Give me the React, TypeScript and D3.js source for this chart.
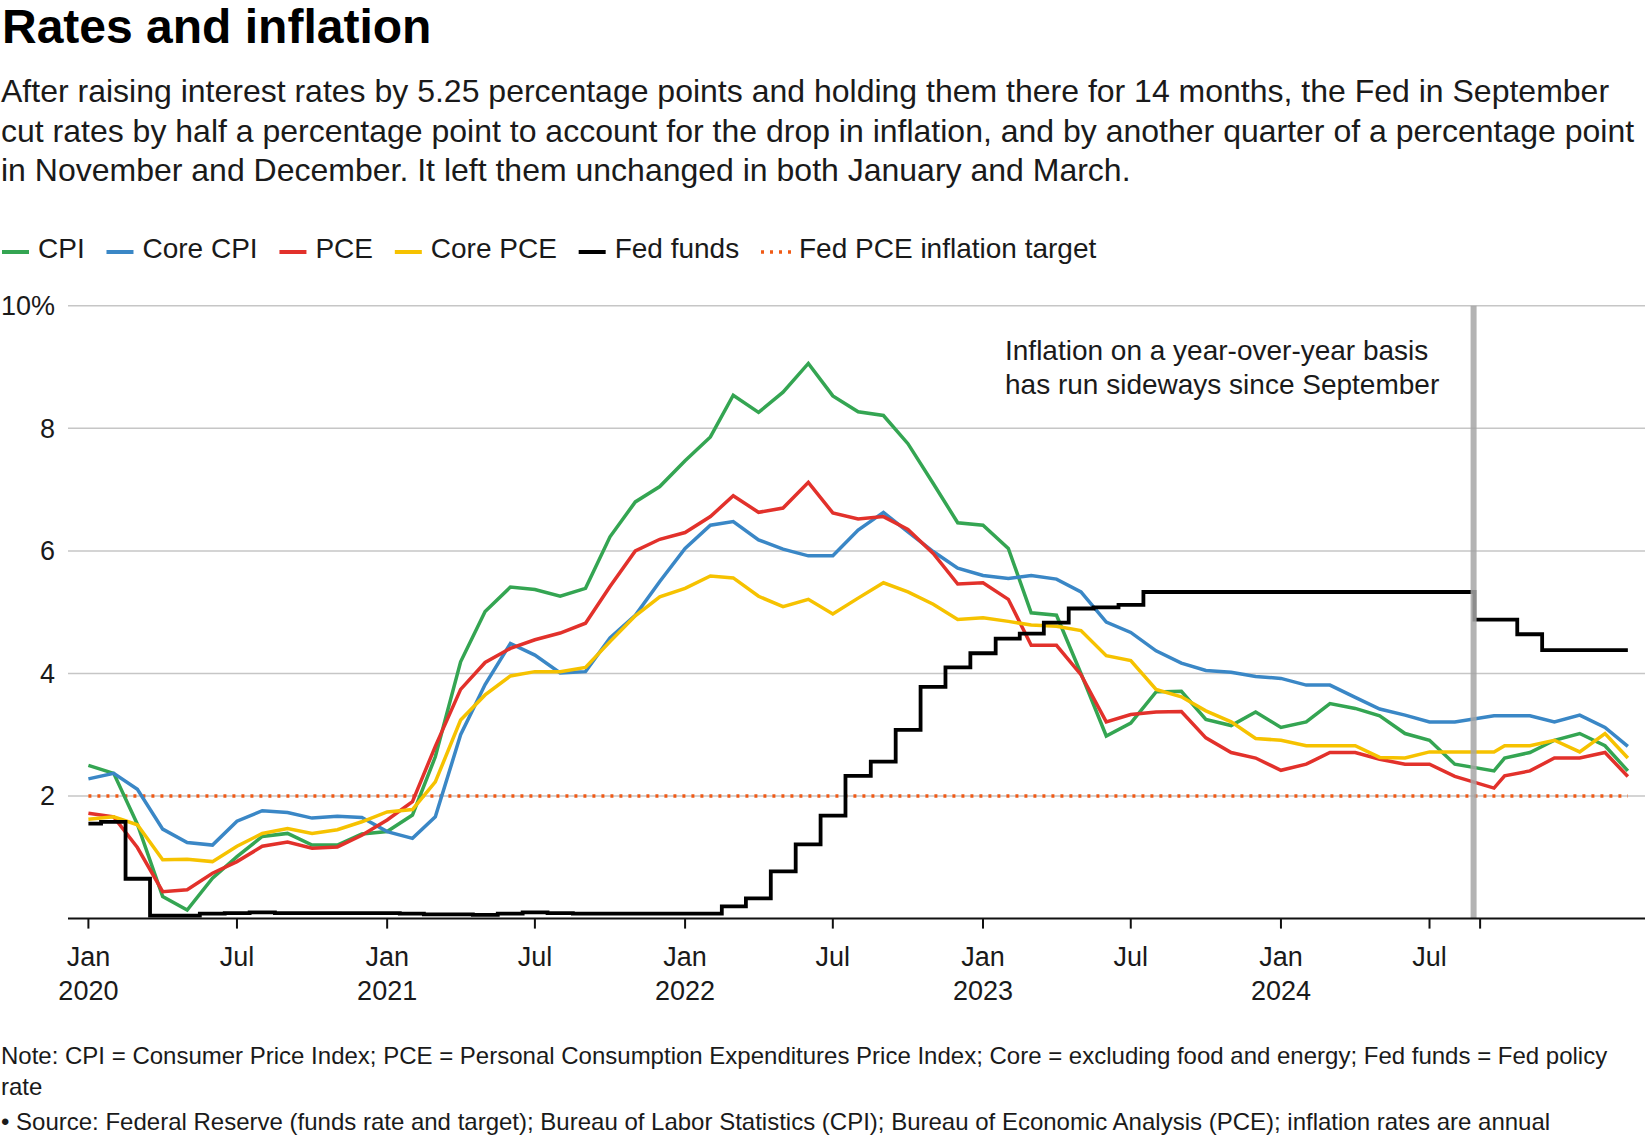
import React, { useEffect, useRef } from 'react';
import * as d3 from 'd3';

// Year-over-year inflation, monthly, Jan 2020 - Mar 2025 (percent)
const cpi = [
  2.5, 2.37, 1.54, 0.36, 0.14, 0.66, 1.01, 1.34, 1.39, 1.2, 1.2, 1.38,
  1.42, 1.69, 2.64, 4.19, 5.01, 5.41, 5.37, 5.26, 5.39, 6.23, 6.8, 7.05,
  7.47, 7.86, 8.54, 8.26, 8.59, 9.06, 8.53, 8.27, 8.21, 7.75, 7.1, 6.46,
  6.42, 6.04, 4.99, 4.95, 4.0, 2.98, 3.19, 3.7, 3.71, 3.25, 3.15, 3.37,
  3.12, 3.21, 3.51, 3.43, 3.31, 3.02, 2.91, 2.52, 2.41, 2.62, 2.71, 2.91,
  3.02, 2.82, 2.41,
];
const coreCpi = [
  2.28, 2.37, 2.11, 1.46, 1.24, 1.2, 1.59, 1.76, 1.73, 1.64, 1.67, 1.65,
  1.42, 1.31, 1.66, 3.0, 3.82, 4.49, 4.3, 4.01, 4.03, 4.58, 4.95, 5.5,
  6.04, 6.42, 6.48, 6.18, 6.03, 5.92, 5.92, 6.34, 6.63, 6.31, 5.99, 5.72,
  5.6, 5.55, 5.6, 5.54, 5.33, 4.84, 4.67, 4.37, 4.17, 4.05, 4.02, 3.95,
  3.92, 3.81, 3.81, 3.61, 3.42, 3.32, 3.21, 3.21, 3.31, 3.31, 3.31, 3.21,
  3.32, 3.12, 2.81,
];
const pce = [
  1.72, 1.66, 1.16, 0.44, 0.47, 0.74, 0.93, 1.18, 1.25, 1.15, 1.17, 1.36,
  1.61, 1.91, 2.81, 3.74, 4.18, 4.41, 4.55, 4.66, 4.82, 5.42, 6.0, 6.19,
  6.3, 6.56, 6.9, 6.63, 6.7, 7.12, 6.62, 6.52, 6.56, 6.35, 5.96, 5.46,
  5.48, 5.21, 4.46, 4.46, 3.98, 3.21, 3.33, 3.37, 3.38, 2.95, 2.71, 2.62,
  2.42, 2.52, 2.71, 2.71, 2.6, 2.52, 2.52, 2.32, 2.13, 2.33, 2.41, 2.62,
  2.62, 2.71, 2.32,
];
const corePce = [
  1.62, 1.66, 1.53, 0.96, 0.97, 0.93, 1.18, 1.39, 1.47, 1.39, 1.45, 1.58,
  1.74, 1.78, 2.23, 3.24, 3.65, 3.96, 4.03, 4.03, 4.1, 4.52, 4.94, 5.25,
  5.39, 5.59, 5.56, 5.26, 5.09, 5.21, 4.97, 5.23, 5.48, 5.33, 5.13, 4.88,
  4.91, 4.85, 4.79, 4.77, 4.7, 4.29, 4.21, 3.74, 3.62, 3.39, 3.21, 2.94,
  2.91, 2.82, 2.82, 2.82, 2.63, 2.62, 2.72, 2.72, 2.72, 2.82, 2.82, 2.91,
  2.72, 3.02, 2.62,
];
// Effective fed funds rate, monthly
const fedFunds = [
  1.55, 1.58, 0.65, 0.05, 0.05, 0.08, 0.09, 0.1, 0.09, 0.09, 0.09, 0.09,
  0.09, 0.08, 0.07, 0.07, 0.06, 0.08, 0.1, 0.09, 0.08, 0.08, 0.08, 0.08,
  0.08, 0.08, 0.2, 0.33, 0.77, 1.21, 1.68, 2.33, 2.56, 3.08, 3.78, 4.1,
  4.33, 4.57, 4.65, 4.83, 5.06, 5.08, 5.12, 5.33, 5.33, 5.33, 5.33, 5.33,
  5.33, 5.33, 5.33, 5.33, 5.33, 5.33, 5.33, 5.33, 4.88, 4.88, 4.64, 4.38,
  4.38, 4.38, 4.38,
];
const targetRate = 2;

const yTicks = [2, 4, 6, 8, 10];
const xTickMonths = ['2020-01', '2020-07', '2021-01', '2021-07', '2022-01', '2022-07', '2023-01', '2023-07', '2024-01', '2024-07'];
const markerTick = '2024-09';
const markerDate = '2024-08-24';

const GREEN = '#34a552';
const BLUE = '#3a87c6';
const RED = '#e2312b';
const YELLOW = '#f6c200';
const TARGET = '#f05a16';

const FONT = '"Liberation Sans", Arial, Helvetica, sans-serif';

const subtitle = [
  'After raising interest rates by 5.25 percentage points and holding them there for 14 months, the Fed in September',
  'cut rates by half a percentage point to account for the drop in inflation, and by another quarter of a percentage point',
  'in November and December. It left them unchanged in both January and March.',
];
const notes = [
  'Note: CPI = Consumer Price Index; PCE = Personal Consumption Expenditures Price Index; Core = excluding food and energy; Fed funds = Fed policy',
  'rate',
];
const source = '• Source: Federal Reserve (funds rate and target); Bureau of Labor Statistics (CPI); Bureau of Economic Analysis (PCE); inflation rates are annual';
const annotation = ['Inflation on a year-over-year basis', 'has run sideways since September'];

export default function App() {
  const ref = useRef<SVGSVGElement>(null);

  useEffect(() => {
    if (!ref.current) return;
    document.body.style.margin = '0';

    const svg = d3.select(ref.current);
    svg.selectAll('*').remove();

    const left = 68, right = 1645, top = 305.8, bottom = 918.6;

    // monthly points; the Sep 2024 reading sits on the date of the rate cut
    const dates = d3.utcMonth.range(new Date(Date.UTC(2020, 0, 1)), new Date(Date.UTC(2025, 3, 1)));
    dates[56] = new Date(Date.UTC(2024, 8, 18));

    const x = d3.scaleUtc()
      .domain([new Date(Date.UTC(2019, 11, 7)), new Date(Date.UTC(2025, 2, 22))])
      .range([left, right]);
    const y = d3.scaleLinear().domain([0, 10]).range([bottom, top]);

    svg.attr('font-family', FONT);

    // title + subtitle
    svg.append('text').attr('x', 2).attr('y', 43)
      .attr('font-size', 48).attr('font-weight', 'bold').attr('fill', '#000')
      .text('Rates and inflation');
    subtitle.forEach((line, i) => {
      svg.append('text').attr('x', 1).attr('y', 102 + i * 39.5)
        .attr('font-size', 32).attr('fill', '#1a1a1a').text(line);
    });

    // legend
    const legendItems = [
      { label: 'CPI', color: GREEN, dotted: false },
      { label: 'Core CPI', color: BLUE, dotted: false },
      { label: 'PCE', color: RED, dotted: false },
      { label: 'Core PCE', color: YELLOW, dotted: false },
      { label: 'Fed funds', color: '#000', dotted: false },
      { label: 'Fed PCE inflation target', color: TARGET, dotted: true },
    ];
    let lx = 2;
    legendItems.forEach(item => {
      const g = svg.append('g').attr('transform', `translate(${lx},0)`);
      const textOffset = item.dotted ? 38 : 36;
      g.append('line')
        .attr('x1', 0).attr('x2', item.dotted ? 30 : 27)
        .attr('y1', 252).attr('y2', 252)
        .attr('stroke', item.color).attr('stroke-width', item.dotted ? 3.5 : 4)
        .attr('stroke-dasharray', item.dotted ? '3,6' : null);
      const t = g.append('text').attr('x', textOffset).attr('y', 258)
        .attr('font-size', 28).attr('fill', '#1a1a1a').text(item.label);
      const w = (t.node() as SVGTextElement).getComputedTextLength();
      lx += textOffset + w + 21.8;
    });

    // grid
    svg.append('g').selectAll('line').data(yTicks).enter().append('line')
      .attr('x1', left).attr('x2', right)
      .attr('y1', d => y(d)).attr('y2', d => y(d))
      .attr('stroke', '#c6c6c6').attr('stroke-width', 1.5);
    svg.append('g').selectAll('text').data(yTicks).enter().append('text')
      .attr('x', 55).attr('y', d => y(d)).attr('dy', '0.35em')
      .attr('text-anchor', 'end').attr('font-size', 27).attr('fill', '#1a1a1a')
      .text(d => (d === 10 ? '10%' : String(d)));

    // inflation target
    svg.append('line')
      .attr('x1', x(dates[0])).attr('x2', x(dates[dates.length - 1]))
      .attr('y1', y(targetRate)).attr('y2', y(targetRate))
      .attr('stroke', TARGET).attr('stroke-width', 3.5).attr('stroke-dasharray', '3,6');

    const line = d3.line<number>().x((_, i) => x(dates[i])).y(d => y(d));
    const series = [
      { values: cpi, color: GREEN },
      { values: coreCpi, color: BLUE },
      { values: pce, color: RED },
      { values: corePce, color: YELLOW },
    ];
    series.forEach(s => {
      svg.append('path').datum(s.values).attr('d', line)
        .attr('fill', 'none').attr('stroke', s.color).attr('stroke-width', 3.5)
        .attr('stroke-linejoin', 'miter');
    });

    const stepLine = d3.line<number>().x((_, i) => x(dates[i])).y(d => y(d)).curve(d3.curveStep);
    svg.append('path').datum(fedFunds).attr('d', stepLine)
      .attr('fill', 'none').attr('stroke', '#000').attr('stroke-width', 3.8);

    // September marker
    const mx = x(d3.utcParse('%Y-%m-%d')(markerDate) as Date);
    svg.append('line').attr('x1', mx).attr('x2', mx).attr('y1', top).attr('y2', bottom)
      .attr('stroke', '#a6a6a6').attr('stroke-width', 6).attr('opacity', 0.85);

    // annotation
    annotation.forEach((l, i) => {
      svg.append('text').attr('x', 1005).attr('y', 360 + i * 34)
        .attr('font-size', 28).attr('fill', '#1a1a1a').text(l);
    });

    // x axis
    svg.append('line').attr('x1', left).attr('x2', right).attr('y1', bottom).attr('y2', bottom)
      .attr('stroke', '#111').attr('stroke-width', 2);
    const parseM = d3.utcParse('%Y-%m');
    const tickDates = [...xTickMonths, markerTick].map(s => parseM(s) as Date);
    svg.append('g').selectAll('line').data(tickDates).enter().append('line')
      .attr('x1', d => x(d)).attr('x2', d => x(d))
      .attr('y1', bottom).attr('y2', bottom + 10)
      .attr('stroke', '#111').attr('stroke-width', 2);
    const labelled = xTickMonths.map(s => parseM(s) as Date);
    const lab = svg.append('g').selectAll('g').data(labelled).enter().append('g');
    lab.append('text')
      .attr('x', d => x(d)).attr('y', 966).attr('text-anchor', 'middle')
      .attr('font-size', 27).attr('fill', '#1a1a1a')
      .text(d => d3.utcFormat('%b')(d));
    lab.filter(d => d.getUTCMonth() === 0).append('text')
      .attr('x', d => x(d)).attr('y', 1000).attr('text-anchor', 'middle')
      .attr('font-size', 27).attr('fill', '#1a1a1a')
      .text(d => d3.utcFormat('%Y')(d));

    // notes
    notes.forEach((l, i) => {
      svg.append('text').attr('x', 1).attr('y', 1064 + i * 31)
        .attr('font-size', 24).attr('fill', '#1a1a1a').text(l);
    });
    svg.append('text').attr('x', 1).attr('y', 1130)
      .attr('font-size', 24).attr('fill', '#1a1a1a').text(source);
  }, []);

  return <svg ref={ref} width={1648} height={1140} style={{ display: 'block' }} />;
}
